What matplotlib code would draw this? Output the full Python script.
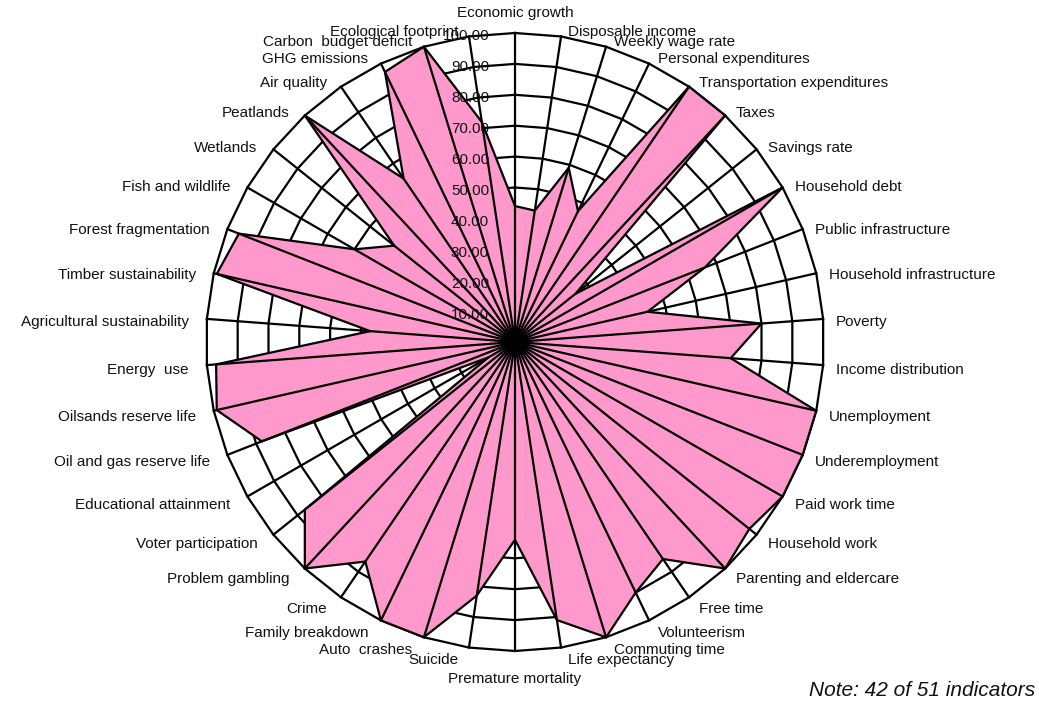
import numpy as np
import matplotlib
matplotlib.use('Agg')
import matplotlib.pyplot as plt

# indicator names, clockwise from the top
labels = ['Economic growth', 'Disposable income', 'Weekly wage rate', 'Personal expenditures',
          'Transportation expenditures', 'Taxes', 'Savings rate', 'Household debt',
          'Public infrastructure', 'Household infrastructure', 'Poverty', 'Income distribution',
          'Unemployment', 'Underemployment', 'Paid work time', 'Household work',
          'Parenting and eldercare', 'Free time', 'Volunteerism', 'Commuting time',
          'Life expectancy', 'Premature mortality', 'Suicide', 'Auto  crashes',
          'Family breakdown', 'Crime', 'Problem gambling', 'Voter participation',
          'Educational attainment', 'Oil and gas reserve life', 'Oilsands reserve life',
          'Energy  use', 'Agricultural sustainability', 'Timber sustainability',
          'Forest fragmentation', 'Fish and wildlife', 'Wetlands', 'Peatlands', 'Air quality',
          'GHG emissions', 'Carbon  budget deficit', 'Ecological footprint']

values = [44, 43, 59, 47, 100, 100, 25, 100, 66, 44, 80, 70,
          100, 100, 100, 97, 100, 85, 90, 100, 91, 64, 83, 100,
          100, 86, 100, 87, 10, 88, 99, 97, 47, 99, 96, 60,
          50, 100, 64, 97, 100, 72]

ring_levels = [10, 20, 30, 40, 50, 60, 70, 80, 90, 100]
ring_labels = ['10.00', '20.00', '30.00', '40.00', '50.00',
               '60.00', '70.00', '80.00', '90.00', '100.00']

note = 'Note: 42 of 51 indicators'

plt.rcParams['font.family'] = ['Liberation Sans', 'DejaVu Sans']

## set up a pixel-like coordinate system centred on the radar ##
W, H = 1039, 704
cx, cy = 515, 342
R = 309

fig = plt.figure(figsize=(W / 100, H / 100), dpi=100)
ax = fig.add_axes([0, 0, 1, 1])
ax.set_xlim(-cx, W - cx)
ax.set_ylim(-(H - cy), cy)
ax.axis('off')

n = len(labels)
theta = np.arange(n) * 2 * np.pi / n
sx = np.sin(theta)
sy = np.cos(theta)
scale = R / 100.0

# grid rings (polygons), under the fill
for lev in ring_levels:
    rx = np.append(lev * scale * sx, lev * scale * sx[0])
    ry = np.append(lev * scale * sy, lev * scale * sy[0])
    ax.plot(rx, ry, color='black', lw=1.6, zorder=1)

# filled data polygon
r = np.array(values) * scale
ax.fill(r * sx, r * sy, facecolor='#FF99CC', edgecolor='black', lw=1.6, zorder=2)

# spokes on top of the fill
for i in range(n):
    ax.plot([0, R * sx[i]], [0, R * sy[i]], color='black', lw=1.6, zorder=3)

# value axis labels along the top spoke
for lev, lab in zip(ring_levels, ring_labels):
    ax.text(-26, lev * scale - 3.5, lab, ha='right', va='center', fontsize=11,
            color='#111111', zorder=4)

# category labels round the outside
for i in range(n):
    x = R * sx[i]
    y = R * sy[i] - (4 - 9 * sy[i])
    if abs(sx[i]) < 0.05:
        y += 15 * sy[i]
        ha = 'center'
    elif sx[i] > 0:
        x += 6 + 7 * abs(sx[i])
        ha = 'left'
    else:
        x -= 9 + 9 * abs(sx[i])
        ha = 'right'
    ax.text(x, y, labels[i], ha=ha, va='center', fontsize=11, color='#111111', zorder=4)

ax.text(1035 - cx, cy - 690, note, ha='right', va='center', fontsize=15,
        style='italic', color='#111111')

fig.savefig('out.png', dpi=100)
